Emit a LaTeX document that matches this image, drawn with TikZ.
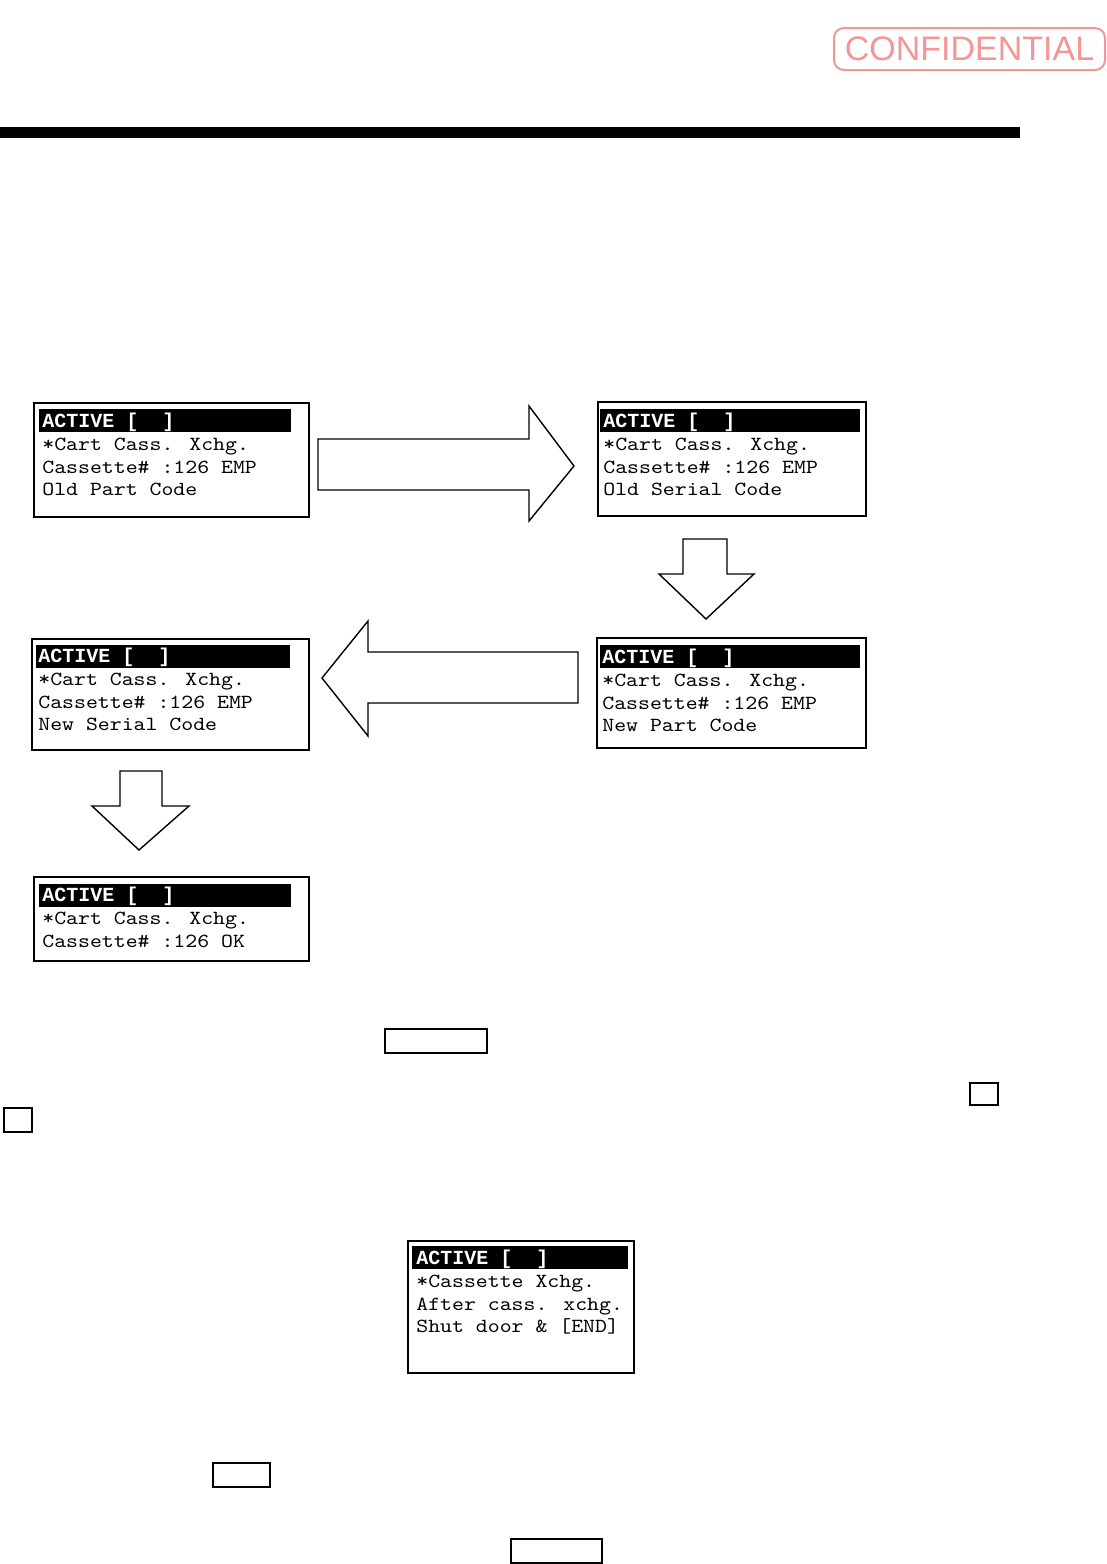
\documentclass[tikz,border=0pt]{standalone}
\usepackage{fontspec}
\setsansfont{Liberation Sans}
\newfontfamily\lcdheadfont{Liberation Mono}
\usetikzlibrary{fit}

\definecolor{stamppink}{RGB}{242,150,150}

\tikzset{
  lcdframe/.style={draw, line width=1pt, inner sep=0pt},
  lcdbar/.style={fill=black, inner sep=0pt},
  lcd/.style={anchor=west, inner sep=0pt, text height=7pt, text depth=2pt,
    font=\ttfamily\fontsize{10}{12}\selectfont},
  lcdhead/.style={lcd, text=white, font=\lcdheadfont\bfseries\fontsize{10}{12}\selectfont},
  blockarrow/.style={draw, fill=white, line width=0.7pt, line join=miter},
  keybox/.style={draw, line width=0.7pt, inner sep=0pt},
}

% widen the typewriter face to the LCD pitch
\newcommand{\lcdtext}[1]{\scalebox{1.135}[1]{#1}}

\begin{document}
\begin{tikzpicture}[x=0.5pt, y=-0.5pt]

\useasboundingbox (0,0) rectangle (1107,1564);

% Stamp
\node[draw=stamppink, line width=1pt, rounded corners=5pt, fit={(834,28) (1105,70)}, inner sep=0pt] (stamp) {};
\node[text=stamppink, font=\sffamily\fontsize{17}{17}\selectfont] at (stamp.center) {CONFIDENTIAL};

% Heading rule
\fill (0,127) rectangle (1020,138);

% Screen 1: old part code
\node[lcdframe, fit={(34,403) (309,517)}] (s1) {};
\node[lcdbar, fit={(39,409) (291,432)}] (s1bar) {};
\node[lcdhead] at (42,422) {ACTIVE [ \ ]};
\foreach \txt [count=\i] in {*Cart Cass. Xchg., Cassette\# :126 EMP, Old Part Code}
  \node[lcd] at (42,{423+\i*22.6}) {\lcdtext{\txt}};

% Screen 2: old serial code
\node[lcdframe, fit={(598,402) (866,516)}] (s2) {};
\node[lcdbar, fit={(600,409) (860,432)}] (s2bar) {};
\node[lcdhead] at (603,422) {ACTIVE [ \ ]};
\foreach \txt [count=\i] in {*Cart Cass. Xchg., Cassette\# :126 EMP, Old Serial Code}
  \node[lcd] at (603,{423+\i*22.6}) {\lcdtext{\txt}};

% Screen 3: new part code
\node[lcdframe, fit={(597,638) (866,748)}] (s3) {};
\node[lcdbar, fit={(600,645) (860,668)}] (s3bar) {};
\node[lcdhead] at (602,658) {ACTIVE [ \ ]};
\foreach \txt [count=\i] in {*Cart Cass. Xchg., Cassette\# :126 EMP, New Part Code}
  \node[lcd] at (602,{659+\i*22.6}) {\lcdtext{\txt}};

% Screen 4: new serial code
\node[lcdframe, fit={(32,639) (309,750)}] (s4) {};
\node[lcdbar, fit={(36,645) (290,668)}] (s4bar) {};
\node[lcdhead] at (38,657) {ACTIVE [ \ ]};
\foreach \txt [count=\i] in {*Cart Cass. Xchg., Cassette\# :126 EMP, New Serial Code}
  \node[lcd] at (38,{658+\i*22.6}) {\lcdtext{\txt}};

% Screen 5: done
\node[lcdframe, fit={(34,877) (309,961)}] (s5) {};
\node[lcdbar, fit={(39,884) (291,907)}] (s5bar) {};
\node[lcdhead] at (42,896) {ACTIVE [ \ ]};
\foreach \txt [count=\i] in {*Cart Cass. Xchg., Cassette\# :126 OK}
  \node[lcd] at (42,{897+\i*22.8}) {\lcdtext{\txt}};

% Block arrows between the screens
\draw[blockarrow] (318,439) -- (529,439) -- (529,406) -- (574,466) -- (529,521) -- (529,490) -- (318,490) -- cycle;
\draw[blockarrow] (683,539) -- (727,539) -- (727,574) -- (754,574) -- (706,619) -- (659,574) -- (683,574) -- cycle;
\draw[blockarrow] (578,652) -- (368,652) -- (368,621) -- (322,678) -- (368,736) -- (368,703) -- (578,703) -- cycle;
\draw[blockarrow] (120,771) -- (162,771) -- (162,806) -- (189,806) -- (139,850) -- (92,806) -- (120,806) -- cycle;

% Key boxes in the text
\node[keybox, fit={(385,1029) (487,1053)}] (k1) {};
\node[keybox, fit={(970,1083) (998,1105)}] (k2) {};
\node[keybox, fit={(4,1108) (32,1132)}] (k3) {};
\node[keybox, fit={(213,1463) (270,1487)}] (k4) {};
\node[keybox, fit={(511,1539) (602,1563)}] (k5) {};

% Screen 6: cassette exchange end
\node[lcdframe, fit={(408,1241) (634,1373)}] (s6) {};
\node[lcdbar, fit={(412,1246) (628,1269)}] (s6bar) {};
\node[lcdhead] at (416,1259) {ACTIVE [ \ ]};
\foreach \txt [count=\i] in {*Cassette Xchg., After cass. xchg., Shut door \& [END]}
  \node[lcd] at (416,{1260+\i*22.6}) {\lcdtext{\txt}};

\end{tikzpicture}
\end{document}
